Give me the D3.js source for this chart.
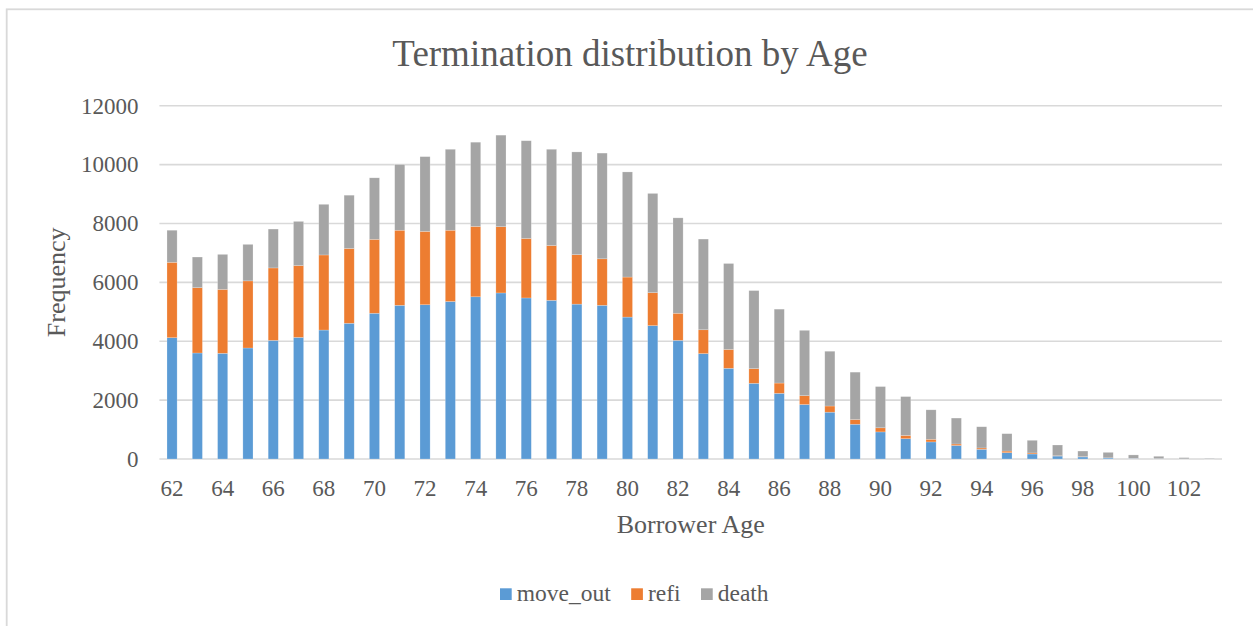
<!DOCTYPE html>
<html>
<head>
<meta charset="utf-8">
<script src="https://cdn.jsdelivr.net/npm/d3@7"></script>
<style>
    html, body { margin: 0; padding: 0; background: #ffffff; }
    svg { display: block; }
    text { font-family: "Liberation Serif", "Times New Roman", serif; fill: #595959; }
</style>
</head>
<body>
<div id="chart"></div>
<script>
// Termination counts per borrower age
const ages = [62, 63, 64, 65, 66, 67, 68, 69, 70, 71, 72, 73, 74, 75, 76, 77, 78, 79, 80, 81, 82,
    83, 84, 85, 86, 87, 88, 89, 90, 91, 92, 93, 94, 95, 96, 97, 98, 99, 100, 101, 102, 103];
const moveOut = [4120, 3600, 3590, 3770, 4030, 4130, 4380, 4610, 4950, 5220, 5240, 5350, 5510, 5640,
    5470, 5390, 5260, 5220, 4820, 4530, 4030, 3580, 3080, 2570, 2230, 1850, 1590, 1180, 920, 690,
    580, 460, 330, 215, 170, 100, 70, 35, 20, 10, 5, 2];
const refi = [2560, 2220, 2170, 2280, 2460, 2440, 2550, 2540, 2510, 2550, 2490, 2420, 2390, 2250,
    2020, 1860, 1680, 1580, 1360, 1120, 920, 810, 640, 500, 350, 300, 210, 160, 140, 110,
    90, 50, 45, 55, 35, 10, 10, 5, 3, 2, 1, 0];
const death = [1090, 1040, 1190, 1240, 1320, 1500, 1720, 1810, 2090, 2230, 2540, 2750, 2860, 3110,
    3320, 3270, 3490, 3590, 3570, 3370, 3240, 3080, 2920, 2650, 2510, 2220, 1860, 1610, 1400, 1320,
    1000, 880, 720, 590, 430, 365, 190, 185, 115, 80, 40, 18];
const seriesNames = ['move_out', 'refi', 'death'];
const seriesColors = ['#5b9bd5', '#ed7d31', '#a5a5a5'];
const yTicks = [0, 2000, 4000, 6000, 8000, 10000, 12000];

const W = 1253;
const H = 626;
const plot = { left: 159.4, right: 1222, top: 105.7, bottom: 459 };
const serif = '"Liberation Serif", "Times New Roman", serif';

const svg = d3
    .select('#chart')
    .append('svg')
    .attr('width', W)
    .attr('height', H);

// Chart frame (only left and top edges are inside the picture)
svg.append('rect')
    .attr('x', 6.7)
    .attr('y', 9.3)
    .attr('width', 1400)
    .attr('height', 800)
    .attr('fill', 'none')
    .attr('stroke', '#d9d9d9')
    .attr('stroke-width', 1.8);

// Build rows for the stack
const table = ages.map((a, i) => ({
    age: a,
    move_out: moveOut[i],
    refi: refi[i],
    death: death[i],
}));
const stacked = d3.stack().keys(seriesNames)(table);

const xScale = d3
    .scaleBand()
    .domain(ages)
    .range([plot.left, plot.right])
    .paddingInner(0.6)
    .paddingOuter(0.3);

const yScale = d3
    .scaleLinear()
    .domain([0, 12000])
    .range([plot.bottom, plot.top]);

// Horizontal gridlines
svg.append('g')
    .attr('class', 'grid')
    .selectAll('line')
    .data(yTicks)
    .enter()
    .append('line')
    .attr('x1', plot.left)
    .attr('x2', plot.right)
    .attr('y1', (d) => yScale(d))
    .attr('y2', (d) => yScale(d))
    .attr('stroke', '#d9d9d9')
    .attr('stroke-width', 1.6);

// Stacked bars
const layers = svg
    .append('g')
    .selectAll('g')
    .data(stacked)
    .enter()
    .append('g')
    .attr('fill', (d, i) => seriesColors[i]);

layers
    .selectAll('rect')
    .data((d) => d)
    .enter()
    .append('rect')
    .attr('x', (d) => xScale(d.data.age))
    .attr('y', (d) => yScale(d[1]))
    .attr('width', xScale.bandwidth())
    .attr('height', (d) => yScale(d[0]) - yScale(d[1]))
    .attr('stroke', '#ffffff')
    .attr('stroke-opacity', 0.35)
    .attr('stroke-width', 0.6);

// Y axis (labels only, no thousands separator)
const yAxis = svg
    .append('g')
    .attr('transform', `translate(${plot.left},0)`)
    .attr('font-family', serif)
    .call(
        d3.axisLeft(yScale)
            .tickValues(yTicks)
            .tickFormat(d3.format('d'))
            .tickSize(0)
            .tickPadding(21)
    );
yAxis.select('.domain').remove();
yAxis.selectAll('text')
    .style('font-size', '23px')
    .style('font-family', serif)
    .attr('fill', '#595959');

// X axis, every second age labelled
const xAxis = svg
    .append('g')
    .attr('transform', `translate(0,${plot.bottom})`)
    .attr('font-family', serif)
    .call(
        d3.axisBottom(xScale)
            .tickValues(ages.filter((a) => a % 2 === 0))
            .tickSize(0)
            .tickPadding(21)
    );
xAxis.select('.domain').remove();
xAxis.selectAll('text')
    .style('font-size', '23px')
    .style('font-family', serif)
    .attr('fill', '#595959');

// Title
svg.append('text')
    .attr('x', 630)
    .attr('y', 66)
    .attr('text-anchor', 'middle')
    .style('font-size', '37px')
    .text('Termination distribution by Age');

// Axis titles
svg.append('text')
    .attr('x', (plot.left + plot.right) / 2)
    .attr('y', 533)
    .attr('text-anchor', 'middle')
    .style('font-size', '26px')
    .text('Borrower Age');

svg.append('text')
    .attr('transform', `translate(64.5,${(plot.top + plot.bottom) / 2}) rotate(-90)`)
    .attr('text-anchor', 'middle')
    .style('font-size', '26px')
    .text('Frequency');

// Legend
const legend = svg.append('g').attr('class', 'legend');
let lx = 500;
seriesNames.forEach((name, i) => {
    legend.append('rect')
        .attr('x', lx)
        .attr('y', 588.3)
        .attr('width', 11.7)
        .attr('height', 11.7)
        .attr('fill', seriesColors[i]);
    const t = legend.append('text')
        .attr('x', lx + 16.7)
        .attr('y', 601)
        .style('font-size', '23.5px')
        .text(name);
    lx += 16.7 + t.node().getComputedTextLength() + 20.5;
});
</script>
</body>
</html>
